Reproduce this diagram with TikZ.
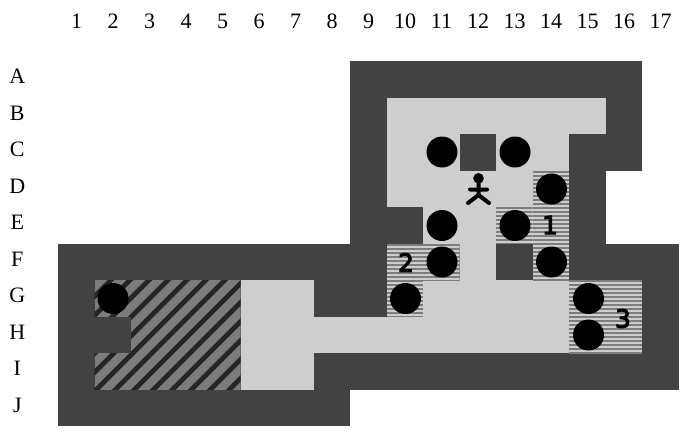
\documentclass[tikz,border=0pt]{standalone}
\usepackage{fontspec}
\setmainfont{Liberation Serif}
\newfontfamily\digitfont[FakeBold=4]{DejaVu Sans}
\definecolor{wallc}{HTML}{424242}
\definecolor{floorc}{HTML}{CECECE}
\definecolor{stripec}{HTML}{7C7C7C}
\definecolor{diagc}{HTML}{7C7C7C}
\definecolor{diagd}{HTML}{252525}
\tikzset{
 ball/.style={circle,fill=black,draw=none,minimum size=31pt,inner sep=0pt},
 rowlab/.style={font=\fontsize{22}{22}\selectfont,text=black,inner sep=0pt},
 collab/.style={font=\fontsize{22}{22}\selectfont,text=black,inner sep=0pt},
 numlab/.style={font=\digitfont\fontsize{25}{25}\selectfont,text=black,inner sep=0pt},
 person/.style={line width=4pt,line cap=round,line join=round,draw=black},
}
\newcommand{\cx}[1]{58+36.5*(#1-1)}
\newcommand{\cy}[1]{61+36.5*(#1-1)}
\newcommand{\cellrect}[5]{\fill[#1] ({\cx{#2}},{\cy{#4}}) rectangle ({\cx{#3+1}},{\cy{#5+1}});}
\newcommand{\hstripes}[4]{%
 \begin{scope}
 \clip ({\cx{#1}},{\cy{#3}}) rectangle ({\cx{#2+1}},{\cy{#4+1}});
 \fill[floorc] ({\cx{#1}},{\cy{#3}}) rectangle ({\cx{#2+1}},{\cy{#4+1}});
 \foreach \k in {0,...,30}{\fill[stripec] ({\cx{#1}},{\cy{#3}+4*\k}) rectangle ({\cx{#2+1}},{\cy{#3}+4*\k+2});}
 \end{scope}}
\begin{document}
\begin{tikzpicture}[x=1pt,y=-1pt]
\useasboundingbox (0,0) rectangle (688,432);
% walls
\cellrect{wallc}{9}{16}{1}{3}
\cellrect{wallc}{9}{15}{4}{5}
\cellrect{wallc}{1}{17}{6}{9}
\cellrect{wallc}{1}{8}{10}{10}
% floor
\cellrect{floorc}{10}{15}{2}{2}
\cellrect{floorc}{10}{14}{3}{4}
\cellrect{floorc}{11}{14}{5}{5}
\cellrect{floorc}{12}{12}{6}{6}
\cellrect{floorc}{11}{14}{7}{8}
\cellrect{floorc}{6}{7}{7}{9}
\cellrect{floorc}{8}{10}{8}{8}
\cellrect{wallc}{12}{12}{3}{3}
% striped cells
\hstripes{14}{14}{4}{6}
\hstripes{13}{13}{5}{5}
\hstripes{10}{11}{6}{6}
\hstripes{10}{10}{7}{7}
\hstripes{15}{16}{7}{8}
% diagonal hatch
\begin{scope}
 \clip ({\cx{2}},{\cy{7}}) rectangle ({\cx{6}},{\cy{10}});
 \fill[diagc] ({\cx{2}},{\cy{7}}) rectangle ({\cx{6}},{\cy{10}});
 \foreach \k in {0,...,12}{\draw[diagd,line width=4.8pt] ({110+19*\k},281) -- ({110+19*\k-120},401) ({110+19*\k},281) -- ({110+19*\k+10},271);}
\end{scope}
\cellrect{wallc}{1}{2}{8}{8}
% balls
\node[ball] (b1) at (113,298.5) {};
\node[ball] (b2) at (442,152) {};
\node[ball] (b3) at (515,152) {};
\node[ball] (b4) at (551.5,189) {};
\node[ball] (b5) at (442,225.5) {};
\node[ball] (b6) at (515,225.5) {};
\node[ball] (b7) at (442,262) {};
\node[ball] (b8) at (551.5,262) {};
\node[ball] (b9) at (405.5,298.5) {};
\node[ball] (b10) at (588.5,298.5) {};
\node[ball] (b11) at (588.5,335) {};
% numbers
\node[numlab] (n1) at (550,225) {1};
\node[numlab] (n2) at (406,262.5) {2};
\node[numlab] (n3) at (623,318.5) {3};
% person
\fill (478.5,178.3) circle (5.3pt);
\draw[person] (478.5,181) -- (478.5,195) (470,189.5) -- (487,189.5) (468,203) -- (478.5,195) -- (489,203);
% column labels
\foreach \n/\xx in {1/76.5,2/113,3/149.5,4/186,5/222.5,6/259,7/295.5,8/332,9/368.5,10/405,11/441.5,12/478,13/514.5,14/551,15/587.5,16/624,17/660.5}
 \node[collab] (col\n) at (\xx,21.5) {\n};
\foreach \l/\yy in {A/76.5,B/113,C/149.5,D/186,E/222.5,F/259,G/295.5,H/332,I/368.5,J/405}
 \node[rowlab] (row\l) at (17.3,\yy) {\l};
\end{tikzpicture}
\end{document}
